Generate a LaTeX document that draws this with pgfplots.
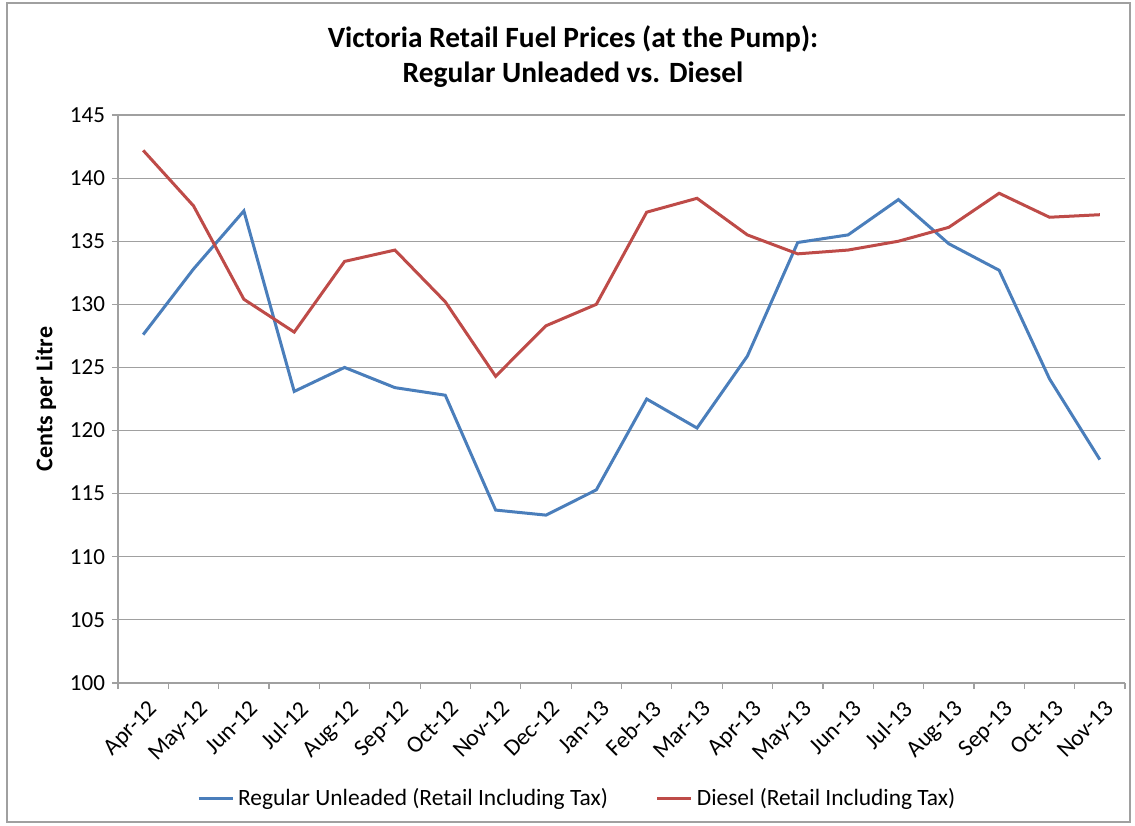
\documentclass[border=0pt]{standalone}
\usepackage{pgfplots}
\pgfplotsset{compat=1.18}
\usepackage{fontspec}
\setmainfont{Carlito}
\definecolor{ublue}{HTML}{4A7EBB}
\definecolor{dred}{HTML}{BE4B48}
\definecolor{gridc}{HTML}{A0A0A0}
\begin{document}
\begin{tikzpicture}
\useasboundingbox (0pt,0pt) rectangle (567.5pt,412.5pt);
\draw[gridc, line width=0.6pt] (3.5pt,1.5pt) rectangle (565pt,411pt);
\node[font=\fontsize{14.7}{17.5}\selectfont\bfseries, align=center] at (286.5pt,384pt) {Victoria Retail Fuel Prices (at the Pump):\\Regular Unleaded vs. Diesel};
\begin{axis}[
  at={(59pt,71pt)}, anchor=south west,
  scale only axis, width=503.5pt, height=284pt,
  xmin=-0.5, xmax=19.5, ymin=100, ymax=145,
  ytick={100,105,...,145},
  xtick={0,...,19},
  xticklabels={Apr-12,May-12,Jun-12,Jul-12,Aug-12,Sep-12,Oct-12,Nov-12,Dec-12,Jan-13,Feb-13,Mar-13,Apr-13,May-13,Jun-13,Jul-13,Aug-13,Sep-13,Oct-13,Nov-13},
  minor xtick={-0.5,0.5,...,19.5},
  major x tick style={draw=none},
  minor x tick style={gridc, line width=0.6pt},
  tick align=outside,
  major tick length=3pt, minor tick length=3pt,
  ytick style={gridc, line width=0.6pt},
  ymajorgrids, grid style={gridc, line width=0.6pt},
  axis line style={gridc, line width=0.6pt},
  axis x line*=bottom, axis y line*=left,
  x tick label style={rotate=45, anchor=north east, font=\fontsize{11.8}{13}\selectfont, inner sep=1pt, xshift=-1pt, yshift=-4pt},
  y tick label style={font=\fontsize{11.5}{13}\selectfont},
  /pgf/number format/assume math mode=true,
  ylabel={\textbf{Cents per Litre}},
  ylabel style={font=\fontsize{12}{14}\selectfont},
  legend style={at={(0.457,-0.2025)}, anchor=center, draw=none, legend columns=2, font=\fontsize{11.7}{13}\selectfont, /tikz/every even column/.append style={column sep=22pt}},
  legend image code/.code={\draw[#1] (0pt,0pt) -- (17pt,0pt);},
  every axis plot/.append style={line width=1.5pt},
]
\addplot[ublue] coordinates {(0,127.6) (1,132.8) (2,137.4) (3,123.1) (4,125.0) (5,123.4) (6,122.8) (7,113.7) (8,113.3) (9,115.3) (10,122.5) (11,120.2) (12,125.9) (13,134.9) (14,135.5) (15,138.3) (16,134.8) (17,132.7) (18,124.1) (19,117.7)};
\addlegendentry{Regular Unleaded (Retail Including Tax)}
\addplot[dred] coordinates {(0,142.2) (1,137.8) (2,130.4) (3,127.8) (4,133.4) (5,134.3) (6,130.2) (7,124.3) (8,128.3) (9,130.0) (10,137.3) (11,138.4) (12,135.5) (13,134.0) (14,134.3) (15,135.0) (16,136.1) (17,138.8) (18,136.9) (19,137.1)};
\addlegendentry{Diesel (Retail Including Tax)}
\end{axis}
\end{tikzpicture}
\end{document}
